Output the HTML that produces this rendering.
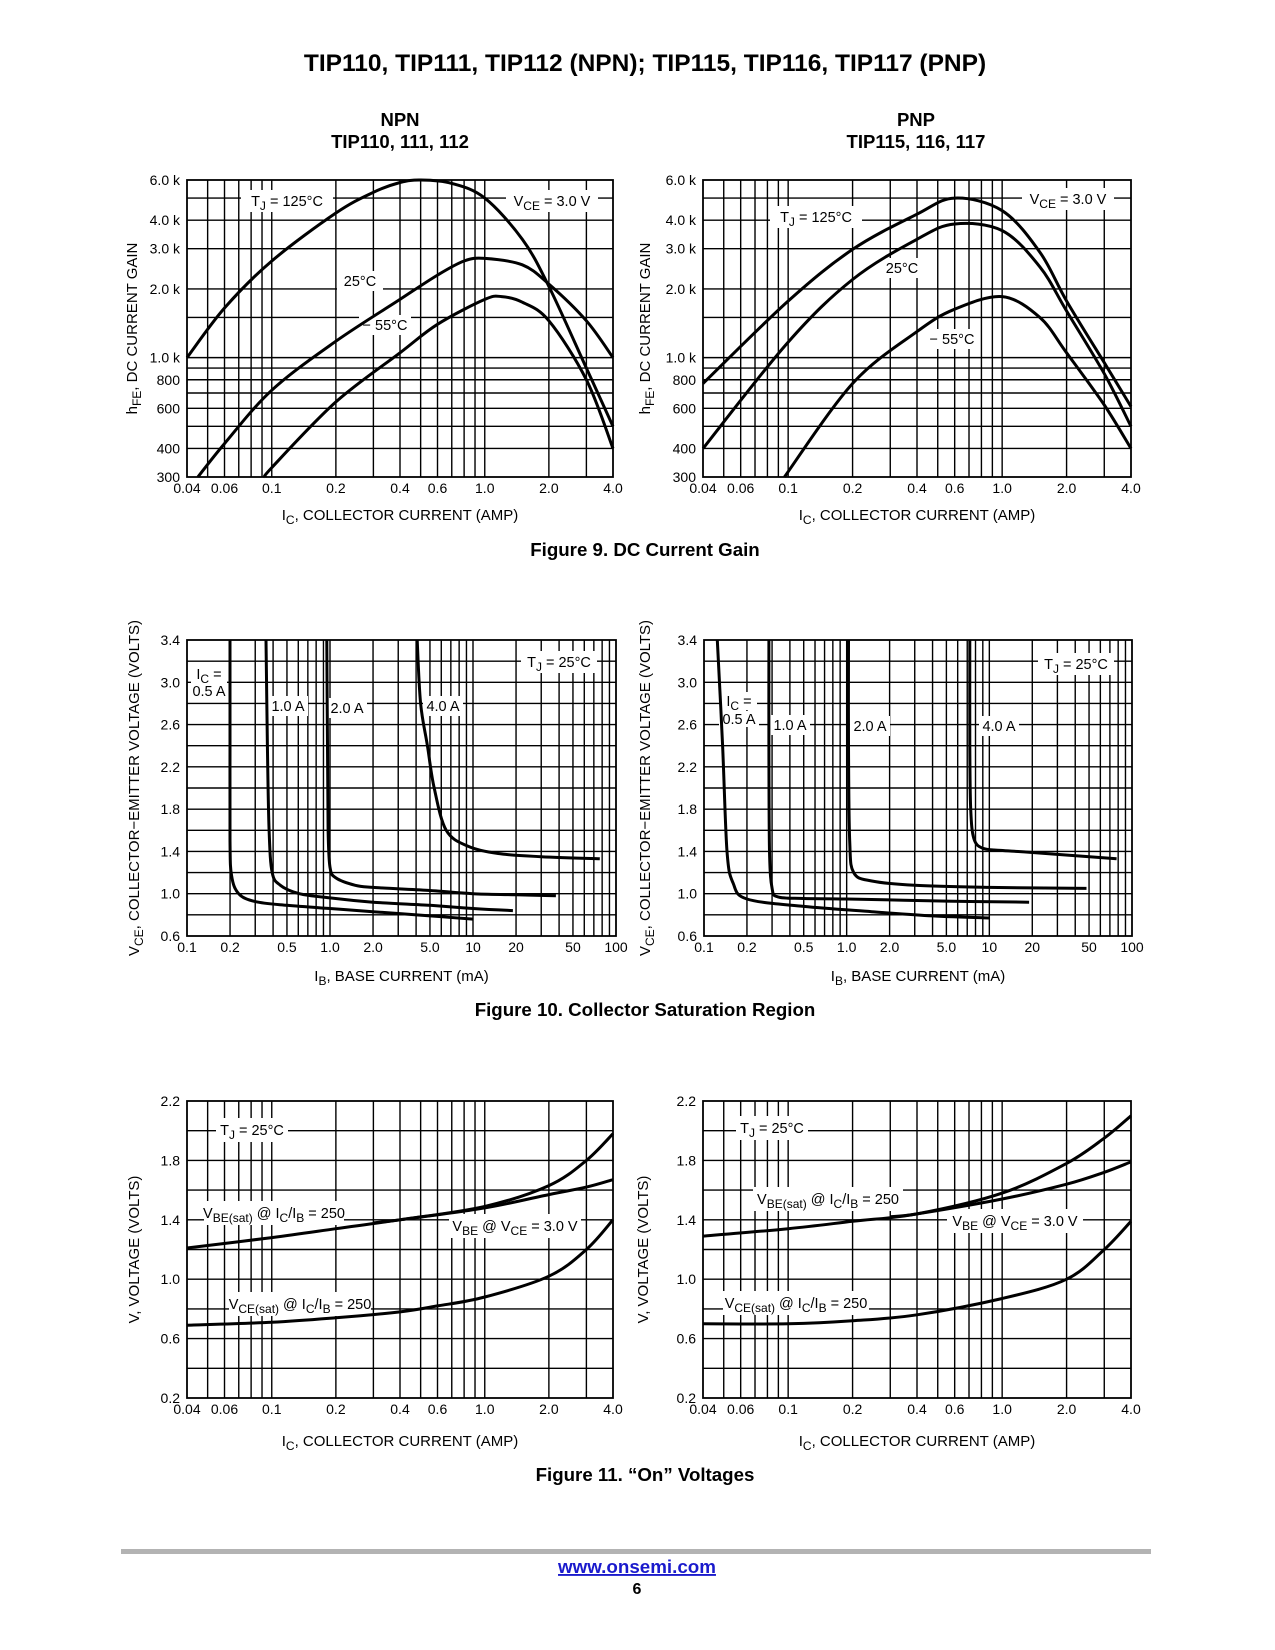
<!DOCTYPE html>
<html><head><meta charset="utf-8">
<style>
html,body{margin:0;padding:0;background:#fff;}
svg{display:block;}
text{font-family:"Liberation Sans",sans-serif;fill:#000;}
</style></head>
<body>
<svg id="page" width="1275" height="1650" viewBox="0 0 1275 1650" xmlns="http://www.w3.org/2000/svg">
<text x="645" y="71" text-anchor="middle" font-size="24.5" font-weight="bold">TIP110, TIP111, TIP112 (NPN); TIP115, TIP116, TIP117 (PNP)</text>
<text x="400" y="126" text-anchor="middle" font-size="18.5" font-weight="bold">NPN</text>
<text x="400" y="148" text-anchor="middle" font-size="18.5" font-weight="bold">TIP110, 111, 112</text>
<text x="916" y="126" text-anchor="middle" font-size="18.5" font-weight="bold">PNP</text>
<text x="916" y="148" text-anchor="middle" font-size="18.5" font-weight="bold">TIP115, 116, 117</text>
<text x="645" y="556" text-anchor="middle" font-size="18.7" font-weight="bold">Figure 9. DC Current Gain</text>
<text x="645" y="1016" text-anchor="middle" font-size="18.7" font-weight="bold">Figure 10. Collector Saturation Region</text>
<text x="645" y="1481" text-anchor="middle" font-size="18.7" font-weight="bold">Figure 11. “On” Voltages</text>
<rect x="121" y="1549" width="1030" height="5" fill="#b3b3b3"/>
<text x="637" y="1573" text-anchor="middle" font-size="18.8" font-weight="bold" style="fill:#1a1acc;text-decoration:underline">www.onsemi.com</text>
<text x="637" y="1594" text-anchor="middle" font-size="16" font-weight="bold">6</text>
</svg>
<script>
// ---------- Figure 9 data (hFE vs IC) ----------
const f9L_125_x=[0.04,0.06,0.1,0.2,0.3,0.4,0.5,0.7,1.0,1.5,2.0,3.0,4.0];
const f9L_125_y=[1000,1650,2650,4300,5300,5850,6000,5800,5000,3300,2050,900,500];
const f9L_25_x=[0.045,0.06,0.1,0.2,0.4,0.6,0.8,1.0,1.5,2.0,3.0,4.0];
const f9L_25_y=[300,420,720,1180,1800,2300,2650,2720,2550,2100,1450,1000];
const f9L_m55_x=[0.093,0.1,0.2,0.4,0.6,1.0,1.2,1.5,2.0,3.0,4.0];
const f9L_m55_y=[300,330,640,1050,1400,1800,1850,1750,1450,800,400];
const f9R_125_x=[0.04,0.1,0.2,0.4,0.6,1.0,1.5,2.0,3.0,4.0];
const f9R_125_y=[770,1770,2980,4250,5000,4400,2900,1770,950,610];
const f9R_25_x=[0.04,0.1,0.2,0.4,0.6,1.0,1.5,2.0,3.0,4.0];
const f9R_25_y=[400,1170,2200,3300,3850,3600,2500,1600,850,500];
const f9R_m55_x=[0.096,0.2,0.4,0.6,1.0,1.5,2.0,3.0,4.0];
const f9R_m55_y=[300,770,1300,1630,1850,1500,1050,620,400];
const f9_xticks=[0.04,0.06,0.1,0.2,0.4,0.6,1.0,2.0,4.0];
const f9_xtickLabels=["0.04","0.06","0.1","0.2","0.4","0.6","1.0","2.0","4.0"];
const f9_yticks=[300,400,600,800,1000,2000,3000,4000,6000];
const f9_ytickLabels=["300","400","600","800","1.0 k","2.0 k","3.0 k","4.0 k","6.0 k"];
const f9_xgrid=[0.05,0.06,0.07,0.08,0.09,0.1,0.2,0.3,0.4,0.5,0.6,0.7,0.8,0.9,1,2,3];
const f9_ygrid=[400,500,600,700,800,900,1000,1500,2000,3000,4000,5000];
// ---------- Figure 10 data (VCE vs IB) ----------
const f10L_05_x=[0.2,0.2,0.2,0.205,0.23,0.3,0.5,1,2,5,10];
const f10L_05_y=[3.4,2.4,1.5,1.17,1.0,0.925,0.89,0.86,0.83,0.79,0.76];
const f10L_1_x=[0.357,0.365,0.375,0.394,0.45,0.61,1.0,2,5,10,19];
const f10L_1_y=[3.4,2.4,1.6,1.2,1.08,1.0,0.96,0.92,0.89,0.86,0.84];
const f10L_2_x=[0.95,0.96,0.97,1.0,1.1,1.5,2,5,10,20,38];
const f10L_2_y=[3.4,2.4,1.6,1.25,1.15,1.08,1.06,1.03,1.0,0.99,0.98];
const f10L_4_x=[4.07,4.3,4.8,5.35,6.5,9.2,15,30,77];
const f10L_4_y=[3.4,2.8,2.4,2.0,1.6,1.45,1.38,1.35,1.33];
const f10R_05_x=[0.124,0.135,0.145,0.16,0.2,0.5,1.5,4,10];
const f10R_05_y=[3.4,2.4,1.4,1.1,0.95,0.88,0.83,0.79,0.77];
const f10R_1_x=[0.285,0.285,0.288,0.3,0.33,0.5,1,5,19];
const f10R_1_y=[3.4,2.4,1.4,1.05,0.97,0.955,0.95,0.93,0.92];
const f10R_2_x=[1.03,1.03,1.05,1.12,1.5,3,10,48];
const f10R_2_y=[3.4,2.4,1.5,1.2,1.12,1.08,1.06,1.05];
const f10R_4_x=[7.3,7.3,7.4,7.8,9,12,20,78];
const f10R_4_y=[3.4,2.4,1.8,1.52,1.43,1.41,1.39,1.33];
const f10_xticks=[0.1,0.2,0.5,1,2,5,10,20,50,100];
const f10_xtickLabels=["0.1","0.2","0.5","1.0","2.0","5.0","10","20","50","100"];
const f10_yticks=[0.6,1.0,1.4,1.8,2.2,2.6,3.0,3.4];
const f10_ytickLabels=["0.6","1.0","1.4","1.8","2.2","2.6","3.0","3.4"];
const f10_xgrid=[0.2,0.3,0.4,0.5,0.6,0.7,0.8,0.9,1,2,3,4,5,6,7,8,9,10,20,30,40,50,60,70,80,90];
const f10_ygrid=[0.8,1.0,1.2,1.4,1.6,1.8,2.0,2.2,2.4,2.6,2.8,3.0,3.2];
// ---------- Figure 11 data (V vs IC) ----------
const f11L_vbesat_x=[0.04,0.1,0.2,0.4,1.0,2.0,3.0,4.0];
const f11L_vbesat_y=[1.21,1.28,1.34,1.40,1.49,1.63,1.80,1.98];
const f11L_vbe_x=[0.3,0.4,1.0,2.0,3.0,4.0];
const f11L_vbe_y=[1.38,1.40,1.48,1.57,1.62,1.67];
const f11L_vcesat_x=[0.04,0.1,0.2,0.4,0.6,1.0,2.0,3.0,4.0];
const f11L_vcesat_y=[0.69,0.71,0.74,0.78,0.82,0.88,1.02,1.2,1.4];
const f11R_vbesat_x=[0.04,0.1,0.2,0.4,1.0,2.0,3.0,4.0];
const f11R_vbesat_y=[1.29,1.34,1.39,1.44,1.58,1.78,1.95,2.1];
const f11R_vbe_x=[0.3,0.4,1.0,2.0,3.0,4.0];
const f11R_vbe_y=[1.42,1.44,1.54,1.64,1.72,1.79];
const f11R_vcesat_x=[0.04,0.1,0.2,0.4,1.0,2.0,3.0,4.0];
const f11R_vcesat_y=[0.7,0.7,0.72,0.76,0.87,1.0,1.2,1.39];
const f11_yticks=[0.2,0.6,1.0,1.4,1.8,2.2];
const f11_ytickLabels=["0.2","0.6","1.0","1.4","1.8","2.2"];
const f11_ygrid=[0.4,0.6,0.8,1.0,1.2,1.4,1.6,1.8,2.0];

const NS="http://www.w3.org/2000/svg";
const svg=document.getElementById('page');
function mk(tag,attrs,parent){const e=document.createElementNS(NS,tag);for(const k in attrs)e.setAttribute(k,attrs[k]);(parent||svg).appendChild(e);return e;}

function smoothPath(pts){
  let d="M"+pts[0][0].toFixed(1)+","+pts[0][1].toFixed(1);
  for(let i=0;i<pts.length-1;i++){
    const p0=pts[Math.max(0,i-1)],p1=pts[i],p2=pts[i+1],p3=pts[Math.min(pts.length-1,i+2)];
    const c1=[p1[0]+(p2[0]-p0[0])/6,p1[1]+(p2[1]-p0[1])/6];
    const c2=[p2[0]-(p3[0]-p1[0])/6,p2[1]-(p3[1]-p1[1])/6];
    d+=" C"+c1[0].toFixed(1)+","+c1[1].toFixed(1)+" "+c2[0].toFixed(1)+","+c2[1].toFixed(1)+" "+p2[0].toFixed(1)+","+p2[1].toFixed(1);
  }
  return d;
}

function chart(c){
  const g=mk('g',{});
  
  
  const X=v=>c.x0+(Math.log10(v)-Math.log10(c.xmin))/(Math.log10(c.xmax)-Math.log10(c.xmin))*(c.x1-c.x0);
  const Y=c.ylog?(v=>c.y1-(Math.log10(v)-Math.log10(c.ymin))/(Math.log10(c.ymax)-Math.log10(c.ymin))*(c.y1-c.y0))
                :(v=>c.y1-(v-c.ymin)/(c.ymax-c.ymin)*(c.y1-c.y0));
  c.xgrid.forEach(v=>{const l=mk('line',{x1:X(v),x2:X(v),y1:c.y0,y2:c.y1,stroke:'#000','stroke-width':1.4},g);
    
    });
  c.ygrid.forEach(v=>{const l=mk('line',{x1:c.x0,x2:c.x1,y1:Y(v),y2:Y(v),stroke:'#000','stroke-width':1.4},g);
    
    });
  const fr=mk('rect',{x:c.x0,y:c.y0,width:c.x1-c.x0,height:c.y1-c.y0,fill:'none',stroke:'#000','stroke-width':1.8},g);
  
  
  c.labels.forEach(L=>{
    const r=mk('rect',{x:L.x-L.w/2,y:L.y-L.h/2,width:L.w,height:L.h,fill:'#fff'},g);
    
    
  });
  c.series.forEach(s=>{
    const pts=s.x.map((v,i)=>[X(v),Y(s.y[i])]);
    const p=mk('path',{d:smoothPath(pts),fill:'none',stroke:'#000','stroke-width':3,'stroke-linecap':'butt'},g);
    
    
  });
  c.labels.forEach(L=>{
    const t=mk('text',{x:L.x,y:L.y+5,'text-anchor':'middle','font-size':L.fs||14.5},g);
    t.innerHTML=L.html;
    
    
  });
  c.xticks.forEach((v,i)=>{const t=mk('text',{x:X(v),y:c.y1+16,'text-anchor':'middle','font-size':14},g);
    t.textContent=c.xtl[i];
    
    });
  c.yticks.forEach((v,i)=>{const t=mk('text',{x:c.x0-7,y:Y(v)+5,'text-anchor':'end','font-size':14},g);
    t.textContent=c.ytl[i];
    
    });
  const xt=mk('text',{x:(c.x0+c.x1)/2,y:c.xtY,'text-anchor':'middle','font-size':15},g);
  xt.innerHTML=c.xtitle;
  
  
  const yt=mk('text',{x:0,y:0,'text-anchor':'middle','font-size':15,transform:`translate(${c.ytX},${(c.y0+c.y1)/2}) rotate(-90)`},g);
  yt.innerHTML=c.ytitle;
  
  
}
const sub=s=>`<tspan dy="4" font-size="12">${s}</tspan><tspan dy="-4">`;
const IC=`I${sub('C')}, COLLECTOR CURRENT (AMP)</tspan>`;
const HFE=`h${sub('FE')}, DC CURRENT GAIN</tspan>`;
const VCEY=`V${sub('CE')}, COLLECTOR−EMITTER VOLTAGE (VOLTS)</tspan>`;
const IB=`I${sub('B')}, BASE CURRENT (mA)</tspan>`;
const TJ=t=>`T${sub('J')} = ${t}</tspan>`;
const VCE3=`V${sub('CE')} = 3.0 V</tspan>`;
const VBESAT=`V${sub('BE(sat)')} @ I</tspan>${sub('C')}/I</tspan>${sub('B')} = 250</tspan>`;
const VCESAT=`V${sub('CE(sat)')} @ I</tspan>${sub('C')}/I</tspan>${sub('B')} = 250</tspan>`;
const VBEV=`V${sub('BE')} @ V</tspan>${sub('CE')} = 3.0 V</tspan>`;

const f9base={xmin:0.04,xmax:4,ylog:true,ymin:300,ymax:6000,y0:180,y1:477,xgrid:f9_xgrid,ygrid:f9_ygrid,
  xticks:f9_xticks,xtl:f9_xtickLabels,yticks:f9_yticks,ytl:f9_ytickLabels,xtitle:IC,ytitle:HFE,xtY:520};
chart(Object.assign({},f9base,{name:'npn-dc-current-gain-chart',x0:187,x1:613,ytX:137,
  series:[{name:'curve-125c',x:f9L_125_x,y:f9L_125_y},{name:'curve-25c',x:f9L_25_x,y:f9L_25_y},{name:'curve-minus-55c',x:f9L_m55_x,y:f9L_m55_y}],
  labels:[{name:'tj-label',x:287,y:201,w:92,h:22,html:TJ('125°C')},{name:'vce-label',x:552,y:201,w:92,h:22,html:VCE3},
          {name:'label-25c',x:360,y:281,w:46,h:20,html:'25°C'},{name:'label-minus-55c',x:385,y:325,w:52,h:20,html:'− 55°C'}]}));
chart(Object.assign({},f9base,{name:'pnp-dc-current-gain-chart',x0:703,x1:1131,ytX:650,
  series:[{name:'curve-125c',x:f9R_125_x,y:f9R_125_y},{name:'curve-25c',x:f9R_25_x,y:f9R_25_y},{name:'curve-minus-55c',x:f9R_m55_x,y:f9R_m55_y}],
  labels:[{name:'tj-label',x:816,y:217,w:92,h:22,html:TJ('125°C')},{name:'vce-label',x:1068,y:199,w:92,h:22,html:VCE3},
          {name:'label-25c',x:902,y:268,w:46,h:20,html:'25°C'},{name:'label-minus-55c',x:952,y:339,w:52,h:20,html:'− 55°C'}]}));

const f10base={xmin:0.1,xmax:100,ylog:false,ymin:0.6,ymax:3.4,y0:640,y1:936,xgrid:f10_xgrid,ygrid:f10_ygrid,
  xticks:f10_xticks,xtl:f10_xtickLabels,yticks:f10_yticks,ytl:f10_ytickLabels,xtitle:IB,ytitle:VCEY,xtY:981};
chart(Object.assign({},f10base,{name:'npn-saturation-chart',x0:187,x1:616,ytX:139,
  series:[{name:'curve-0-5a',x:f10L_05_x,y:f10L_05_y},{name:'curve-1a',x:f10L_1_x,y:f10L_1_y},{name:'curve-2a',x:f10L_2_x,y:f10L_2_y},{name:'curve-4a',x:f10L_4_x,y:f10L_4_y}],
  labels:[{name:'ic-label',x:209,y:674,w:36,h:18,html:`I${sub('C')} =</tspan>`},{name:'label-0-5a',x:209,y:691,w:40,h:16,html:'0.5 A'},
          {name:'label-1a',x:288,y:706,w:40,h:20,html:'1.0 A'},{name:'label-2a',x:347,y:708,w:40,h:20,html:'2.0 A'},
          {name:'label-4a',x:443,y:706,w:40,h:20,html:'4.0 A'},{name:'tj-label',x:559,y:662,w:76,h:22,html:TJ('25°C')}]}));
chart(Object.assign({},f10base,{name:'pnp-saturation-chart',x0:704,x1:1132,ytX:650,
  series:[{name:'curve-0-5a',x:f10R_05_x,y:f10R_05_y},{name:'curve-1a',x:f10R_1_x,y:f10R_1_y},{name:'curve-2a',x:f10R_2_x,y:f10R_2_y},{name:'curve-4a',x:f10R_4_x,y:f10R_4_y}],
  labels:[{name:'ic-label',x:739,y:701,w:36,h:18,html:`I${sub('C')} =</tspan>`},{name:'label-0-5a',x:739,y:719,w:40,h:16,html:'0.5 A'},
          {name:'label-1a',x:790,y:725,w:40,h:20,html:'1.0 A'},{name:'label-2a',x:870,y:726,w:40,h:20,html:'2.0 A'},
          {name:'label-4a',x:999,y:726,w:40,h:20,html:'4.0 A'},{name:'tj-label',x:1076,y:664,w:76,h:22,html:TJ('25°C')}]}));

const f11base={xmin:0.04,xmax:4,ylog:false,ymin:0.2,ymax:2.2,y0:1101,y1:1398,xgrid:f9_xgrid,ygrid:f11_ygrid,
  xticks:f9_xticks,xtl:f9_xtickLabels,yticks:f11_yticks,ytl:f11_ytickLabels,xtitle:IC,ytitle:'V, VOLTAGE (VOLTS)',xtY:1446};
chart(Object.assign({},f11base,{name:'npn-on-voltages-chart',x0:187,x1:613,ytX:139,
  series:[{name:'vbe-sat-curve',x:f11L_vbesat_x,y:f11L_vbesat_y},{name:'vbe-curve',x:f11L_vbe_x,y:f11L_vbe_y},{name:'vce-sat-curve',x:f11L_vcesat_x,y:f11L_vcesat_y}],
  labels:[{name:'tj-label',x:252,y:1130,w:72,h:24,html:TJ('25°C')},{name:'vbe-sat-label',x:274,y:1213,w:140,h:24,html:VBESAT},
          {name:'vbe-label',x:515,y:1226,w:132,h:24,html:VBEV},{name:'vce-sat-label',x:300,y:1304,w:142,h:24,html:VCESAT}]}));
chart(Object.assign({},f11base,{name:'pnp-on-voltages-chart',x0:703,x1:1131,ytX:648,
  series:[{name:'vbe-sat-curve',x:f11R_vbesat_x,y:f11R_vbesat_y},{name:'vbe-curve',x:f11R_vbe_x,y:f11R_vbe_y},{name:'vce-sat-curve',x:f11R_vcesat_x,y:f11R_vcesat_y}],
  labels:[{name:'tj-label',x:772,y:1128,w:72,h:24,html:TJ('25°C')},{name:'vbe-sat-label',x:828,y:1199,w:150,h:24,html:VBESAT},
          {name:'vbe-label',x:1015,y:1221,w:136,h:24,html:VBEV},{name:'vce-sat-label',x:796,y:1303,w:146,h:24,html:VCESAT}]}));
</script>
</body></html>
